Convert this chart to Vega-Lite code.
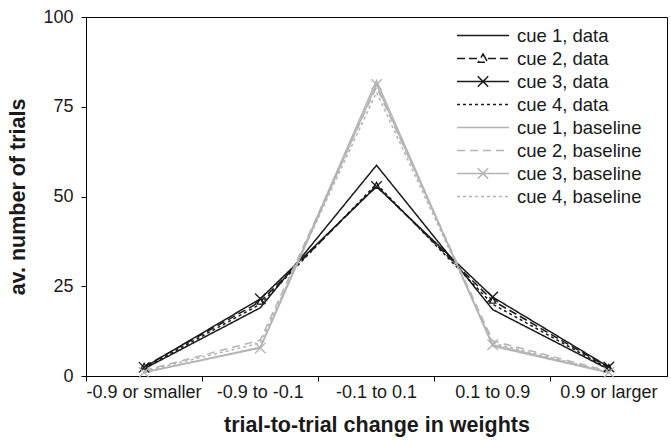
{
  "$schema": "https://vega.github.io/schema/vega-lite/v6.json",
  "width": 581,
  "height": 359,
  "autosize": {"type": "none"},
  "padding": {"left": 86, "top": 17, "right": 4, "bottom": 64},
  "background": "white",
  "config": {
    "font": "Liberation Sans",
    "view": {"stroke": "#000", "strokeWidth": 1},
    "axis": {
      "labelFont": "Liberation Sans",
      "titleFont": "Liberation Sans",
      "labelFontSize": 18,
      "titleFontSize": 21.5,
      "titleFontWeight": "bold",
      "labelColor": "#1a1a1a",
      "titleColor": "#1a1a1a",
      "domainColor": "#000",
      "tickColor": "#000",
      "tickSize": 5,
      "grid": false
    },
    "legend": {
      "labelFont": "Liberation Sans",
      "labelFontSize": 18.5,
      "labelColor": "#1a1a1a",
      "padding": 0,
      "rowPadding": 0
    }
  },
  "data": {
    "values": [
      {"bin": "-0.9 or smaller", "series": "cue 1, data", "trials": 2.0},
      {"bin": "-0.9 to -0.1", "series": "cue 1, data", "trials": 19.0},
      {"bin": "-0.1 to 0.1", "series": "cue 1, data", "trials": 58.7},
      {"bin": "0.1 to 0.9", "series": "cue 1, data", "trials": 18.5},
      {"bin": "0.9 or larger", "series": "cue 1, data", "trials": 1.8},
      {"bin": "-0.9 or smaller", "series": "cue 2, data", "trials": 2.6},
      {"bin": "-0.9 to -0.1", "series": "cue 2, data", "trials": 20.7},
      {"bin": "-0.1 to 0.1", "series": "cue 2, data", "trials": 53.0},
      {"bin": "0.1 to 0.9", "series": "cue 2, data", "trials": 21.0},
      {"bin": "0.9 or larger", "series": "cue 2, data", "trials": 2.3},
      {"bin": "-0.9 or smaller", "series": "cue 3, data", "trials": 2.4},
      {"bin": "-0.9 to -0.1", "series": "cue 3, data", "trials": 21.5},
      {"bin": "-0.1 to 0.1", "series": "cue 3, data", "trials": 52.8},
      {"bin": "0.1 to 0.9", "series": "cue 3, data", "trials": 22.0},
      {"bin": "0.9 or larger", "series": "cue 3, data", "trials": 2.5},
      {"bin": "-0.9 or smaller", "series": "cue 4, data", "trials": 2.2},
      {"bin": "-0.9 to -0.1", "series": "cue 4, data", "trials": 20.0},
      {"bin": "-0.1 to 0.1", "series": "cue 4, data", "trials": 53.5},
      {"bin": "0.1 to 0.9", "series": "cue 4, data", "trials": 20.0},
      {"bin": "0.9 or larger", "series": "cue 4, data", "trials": 2.0},
      {"bin": "-0.9 or smaller", "series": "cue 1, baseline", "trials": 1.0},
      {"bin": "-0.9 to -0.1", "series": "cue 1, baseline", "trials": 8.0},
      {"bin": "-0.1 to 0.1", "series": "cue 1, baseline", "trials": 82.3},
      {"bin": "0.1 to 0.9", "series": "cue 1, baseline", "trials": 8.3},
      {"bin": "0.9 or larger", "series": "cue 1, baseline", "trials": 0.9},
      {"bin": "-0.9 or smaller", "series": "cue 2, baseline", "trials": 1.5},
      {"bin": "-0.9 to -0.1", "series": "cue 2, baseline", "trials": 10.0},
      {"bin": "-0.1 to 0.1", "series": "cue 2, baseline", "trials": 80.5},
      {"bin": "0.1 to 0.9", "series": "cue 2, baseline", "trials": 9.8},
      {"bin": "0.9 or larger", "series": "cue 2, baseline", "trials": 1.3},
      {"bin": "-0.9 or smaller", "series": "cue 3, baseline", "trials": 1.0},
      {"bin": "-0.9 to -0.1", "series": "cue 3, baseline", "trials": 7.8},
      {"bin": "-0.1 to 0.1", "series": "cue 3, baseline", "trials": 81.2},
      {"bin": "0.1 to 0.9", "series": "cue 3, baseline", "trials": 8.7},
      {"bin": "0.9 or larger", "series": "cue 3, baseline", "trials": 1.0},
      {"bin": "-0.9 or smaller", "series": "cue 4, baseline", "trials": 1.3},
      {"bin": "-0.9 to -0.1", "series": "cue 4, baseline", "trials": 9.2},
      {"bin": "-0.1 to 0.1", "series": "cue 4, baseline", "trials": 79.0},
      {"bin": "0.1 to 0.9", "series": "cue 4, baseline", "trials": 9.2},
      {"bin": "0.9 or larger", "series": "cue 4, baseline", "trials": 1.1}
    ]
  },
  "encoding": {
    "x": {
      "field": "bin",
      "type": "nominal",
      "sort": ["-0.9 or smaller", "-0.9 to -0.1", "-0.1 to 0.1", "0.1 to 0.9", "0.9 or larger"],
      "scale": {"type": "band", "paddingInner": 0, "paddingOuter": 0},
      "axis": {
        "title": "trial-to-trial change in weights",
        "labelAngle": 0,
        "bandPosition": 0,
        "labelPadding": 2,
        "titlePadding": 13
      }
    },
    "y": {
      "field": "trials",
      "type": "quantitative",
      "scale": {"domain": [0, 100], "nice": false},
      "axis": {
        "title": "av. number of trials",
        "values": [0, 25, 50, 75, 100],
        "labelPadding": 8,
        "titlePadding": 13
      }
    },
    "color": {
      "field": "series",
      "type": "nominal",
      "scale": {
        "domain": ["cue 1, data", "cue 2, data", "cue 3, data", "cue 4, data", "cue 1, baseline", "cue 2, baseline", "cue 3, baseline", "cue 4, baseline"],
        "range": ["#1a1a1a", "#1a1a1a", "#1a1a1a", "#1a1a1a", "#b4b4b4", "#b4b4b4", "#b4b4b4", "#b4b4b4"]
      },
      "legend": {
        "title": null,
        "orient": "none",
        "legendX": 370,
        "legendY": 7,
        "symbolSize": 2700,
        "symbolStrokeWidth": 1.5,
        "symbolFillColor": "transparent",
        "symbolOpacity": 1,
        "clipHeight": 23,
        "labelOffset": 7
      }
    }
  },
  "layer": [
    {
      "mark": {"type": "line", "strokeWidth": 1.5},
      "encoding": {
        "strokeDash": {
          "field": "series",
          "type": "nominal",
          "scale": {
            "domain": ["cue 1, data", "cue 2, data", "cue 3, data", "cue 4, data", "cue 1, baseline", "cue 2, baseline", "cue 3, baseline", "cue 4, baseline"],
            "range": [[1, 0], [8, 4], [1, 0], [3, 3], [1, 0], [8, 5], [1, 0], [3, 3]]
          },
          "legend": {
            "title": null,
            "orient": "none",
            "legendX": 370,
            "legendY": 7,
            "symbolSize": 2700,
            "symbolStrokeWidth": 1.5,
            "symbolFillColor": "transparent",
            "symbolOpacity": 1,
            "clipHeight": 23,
            "labelOffset": 7
          }
        }
      }
    },
    {
      "mark": {"type": "point", "filled": false, "opacity": 0, "size": 0},
      "encoding": {
        "shape": {
          "field": "series",
          "type": "nominal",
          "scale": {
            "domain": ["cue 1, data", "cue 2, data", "cue 3, data", "cue 4, data", "cue 1, baseline", "cue 2, baseline", "cue 3, baseline", "cue 4, baseline"],
            "range": [
              "M-1,0L1,0",
              "M-1,0L-0.19,0M0.19,0L1,0M0,-0.17L0.18,0.14L-0.18,0.14Z",
              "M-1,0L1,0M-0.2,-0.2L0.2,0.2M-0.2,0.2L0.2,-0.2",
              "M-1,0L1,0",
              "M-1,0L1,0",
              "M-1,0L1,0",
              "M-1,0L1,0M-0.2,-0.2L0.2,0.2M-0.2,0.2L0.2,-0.2",
              "M-1,0L1,0"
            ]
          },
          "legend": {
            "title": null,
            "orient": "none",
            "legendX": 370,
            "legendY": 7,
            "symbolSize": 2700,
            "symbolStrokeWidth": 1.5,
            "symbolFillColor": "transparent",
            "symbolOpacity": 1,
            "clipHeight": 23,
            "labelOffset": 7
          }
        }
      }
    },
    {
      "transform": [{"filter": {"field": "series", "equal": "cue 2, data"}}],
      "mark": {"type": "point", "shape": "M0,-0.8L0.75,0.6L-0.75,0.6Z", "filled": false, "fill": "white", "strokeWidth": 1.3, "size": 70, "opacity": 1}
    },
    {
      "transform": [{"filter": {"field": "series", "oneOf": ["cue 3, data", "cue 3, baseline"]}}],
      "mark": {"type": "point", "shape": "M-1,-1L1,1M-1,1L1,-1", "filled": false, "strokeWidth": 1.3, "size": 110, "opacity": 1}
    }
  ]
}
